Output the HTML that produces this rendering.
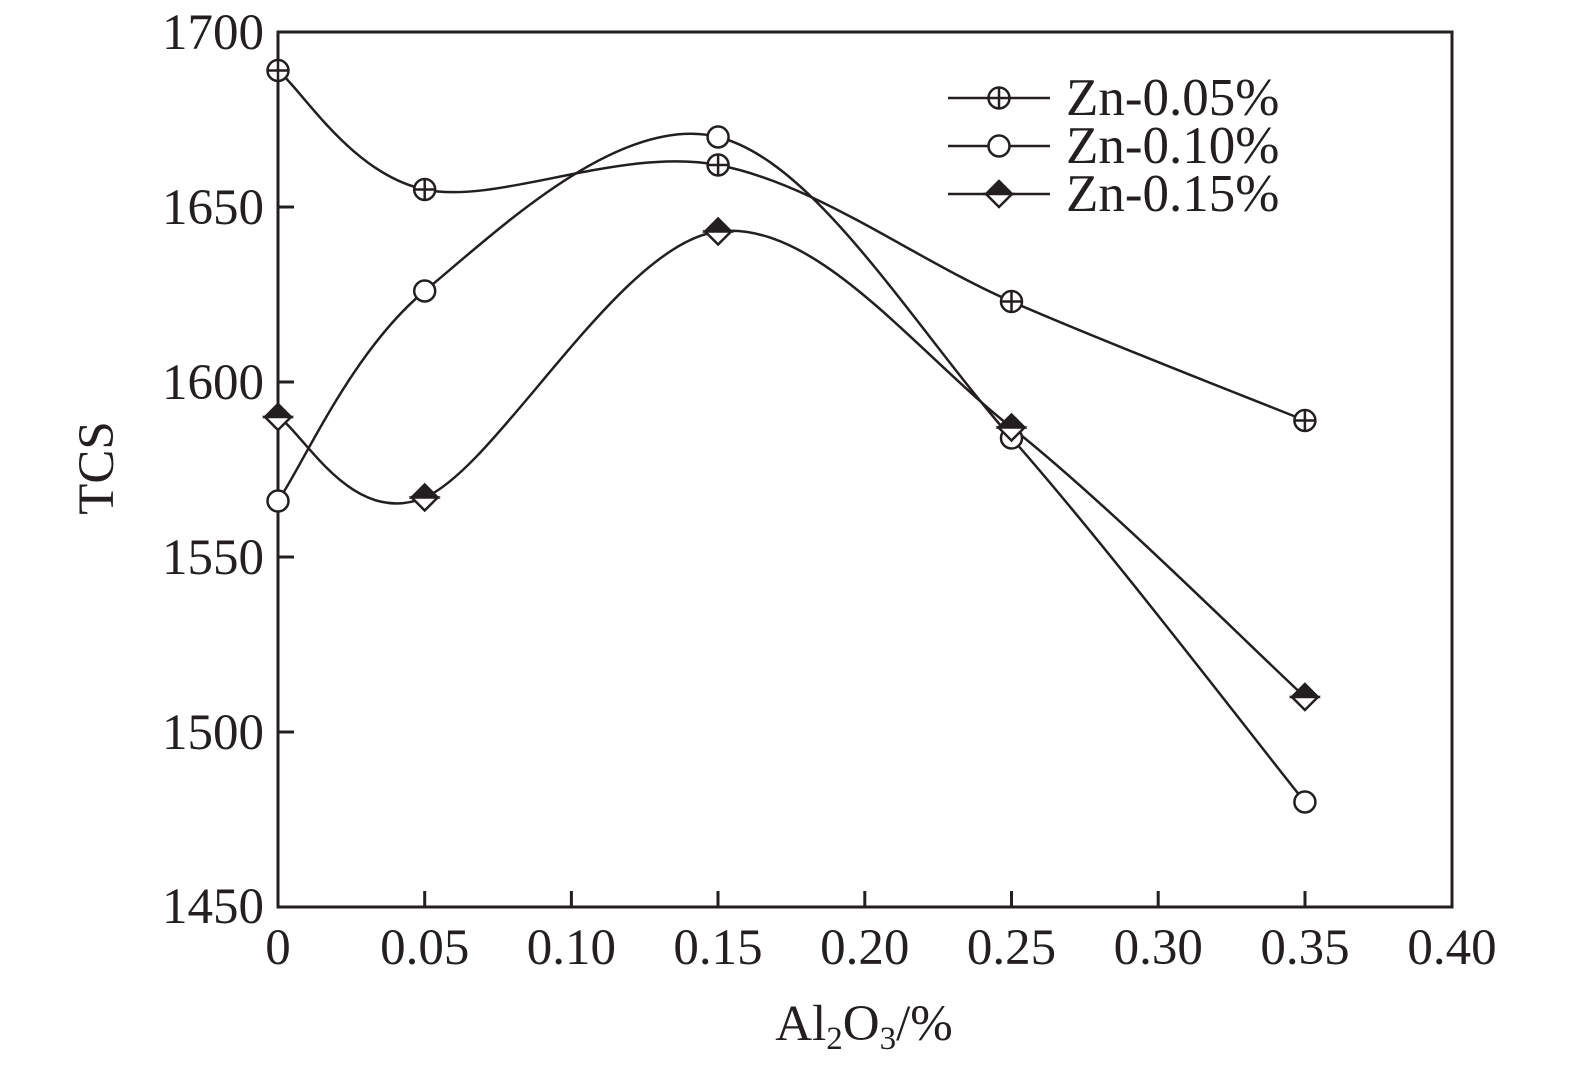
<!DOCTYPE html>
<html><head><meta charset="utf-8"><style>
html,body{margin:0;padding:0;background:#fff;}
svg{display:block;}
text{font-family:"Liberation Serif",serif;fill:#231f20;}
</style></head><body>
<svg id="s" width="1575" height="1075" viewBox="0 0 1575 1075" xmlns="http://www.w3.org/2000/svg">
<g stroke="#231f20" stroke-width="3" fill="none">
<rect x="278" y="32" width="1174" height="875"/>
<path d="M424.7 907v-16M571.4 907v-16M718 907v-16M864.8 907v-16M1011.5 907v-16M1158.2 907v-16M1305 907v-16
M278 207h16M278 382h16M278 557h16M278 732h16"/>
</g>
<g font-size="51" text-anchor="end">
<text x="264" y="49">1700</text>
<text x="264" y="224">1650</text>
<text x="264" y="399">1600</text>
<text x="264" y="574">1550</text>
<text x="264" y="749">1500</text>
<text x="264" y="923">1450</text>
</g>
<g font-size="51" text-anchor="middle">
<text x="278" y="964">0</text>
<text x="424.7" y="964">0.05</text>
<text x="571.4" y="964">0.10</text>
<text x="718" y="964">0.15</text>
<text x="864.8" y="964">0.20</text>
<text x="1011.5" y="964">0.25</text>
<text x="1158.2" y="964">0.30</text>
<text x="1305" y="964">0.35</text>
<text x="1452" y="964">0.40</text>
</g>
<text font-size="51" x="864" y="1040" text-anchor="middle">Al<tspan font-size="33" dy="9">2</tspan><tspan dy="-9">O</tspan><tspan font-size="33" dy="9">3</tspan><tspan dy="-9">/%</tspan></text>
<text font-size="51" transform="translate(113,468) rotate(-90)" text-anchor="middle">TCS</text>
<g id="curves" stroke="#231f20" stroke-width="2.5" fill="none"></g>
<g id="marks" stroke="#231f20" stroke-width="2.5"></g>
<g stroke="#231f20" stroke-width="2.5" fill="none">
<path d="M948 98h102M948 146h102M948 194h102"/>
</g>
<g id="lmarks" stroke="#231f20" stroke-width="2.5"></g>
<g font-size="53">
<text x="1066" y="115">Zn-0.05%</text>
<text x="1066" y="163">Zn-0.10%</text>
<text x="1066" y="211">Zn-0.15%</text>
</g>
</svg>
<script>
var X=function(v){return 278+v*2934;},Y=function(v){return 32+(1700-v)*3.5;};
var xs=[0,0.05,0.15,0.25,0.35];
var data=[[1689,1655,1662,1623,1589],[1566,1626,1670,1584,1480],[1590,1567,1643,1587,1510]];
var NS="http://www.w3.org/2000/svg";
function el(p,t,a){var e=document.createElementNS(NS,t);for(var k in a)e.setAttribute(k,a[k]);p.appendChild(e);return e;}
var cg=document.getElementById('curves'),mg=document.getElementById('marks'),lg=document.getElementById('lmarks');
function marker(g,type,x,y){
 if(type==0){el(g,'circle',{cx:x,cy:y,r:10.5,fill:'#fff'});el(g,'path',{d:'M'+(x-10.5)+' '+y+'h21M'+x+' '+(y-10.5)+'v21',fill:'none'});}
 else if(type==1){el(g,'circle',{cx:x,cy:y,r:10.5,fill:'#fff'});}
 else{el(g,'path',{d:'M'+(x-13)+' '+y+'L'+x+' '+(y-13)+'L'+(x+13)+' '+y+'Z',fill:'#231f20'});
      el(g,'path',{d:'M'+(x-13)+' '+y+'L'+x+' '+(y+13)+'L'+(x+13)+' '+y+'Z',fill:'#fff'});}
}
data.forEach(function(d,i){
 var p=xs.map(function(x,j){return [X(x),Y(d[j])];});
 var s='M'+p[0][0]+' '+p[0][1];
 for(var j=0;j<p.length-1;j++){
  var p0=p[j-1]||p[j],p1=p[j],p2=p[j+1],p3=p[j+2]||p[j+1];
  var c1=[p1[0]+(p2[0]-p0[0])/6,p1[1]+(p2[1]-p0[1])/6],c2=[p2[0]-(p3[0]-p1[0])/6,p2[1]-(p3[1]-p1[1])/6];
  s+='C'+c1[0]+' '+c1[1]+' '+c2[0]+' '+c2[1]+' '+p2[0]+' '+p2[1];
 }
 el(cg,'path',{d:s});
 p.forEach(function(q){marker(mg,i,q[0],q[1]);});
 marker(lg,i,999,98+48*i);
});
</script>
</body></html>
